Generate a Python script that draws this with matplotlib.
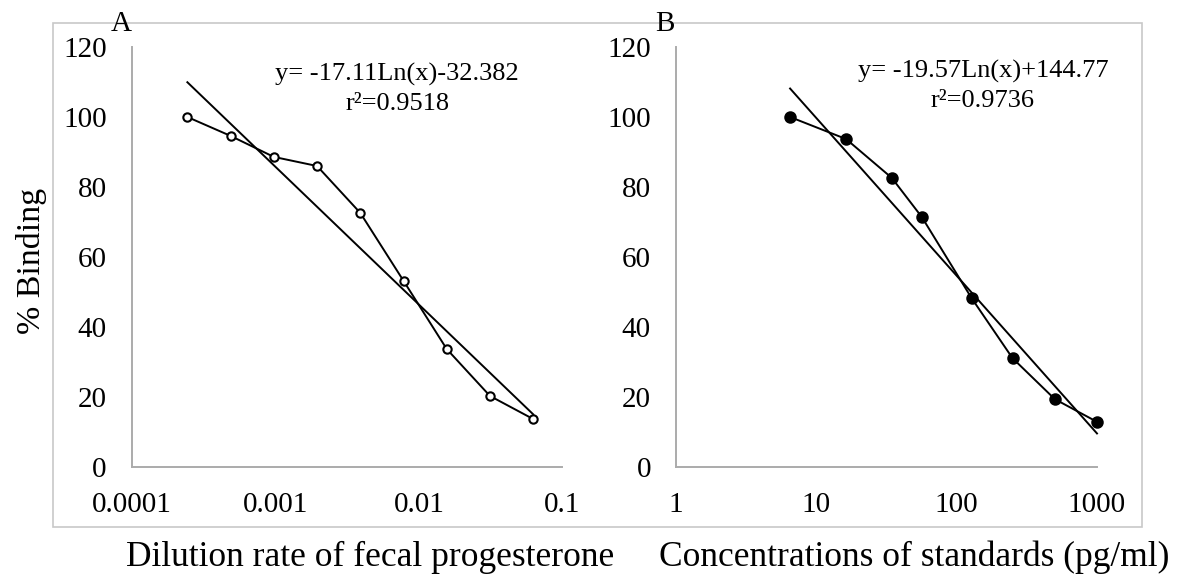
import matplotlib
matplotlib.use("Agg")
import matplotlib.pyplot as plt
from matplotlib.patches import Rectangle
import numpy as np

plt.rcParams['font.family'] = ['Liberation Serif', 'DejaVu Serif']

# panel A: dilution series of fecal extract
dilution = [1/4096, 1/2048, 1/1024, 1/512, 1/256, 1/128, 1/64, 1/32, 1/16]
binding_a = [100.0, 94.6, 88.6, 86.0, 72.6, 53.2, 33.7, 20.3, 13.7]
coef_a = (-17.11, -32.382)
eq_a = "y= -17.11Ln(x)-32.382"
r2_a = "r\u00b2=0.9518"

# panel B: standard curve
standards = [6.5, 16.3, 34.5, 56.5, 128, 250, 500, 1000]
binding_b = [100.0, 93.7, 82.6, 71.4, 48.2, 31.1, 19.4, 12.9]
coef_b = (-19.57, 144.77)
eq_b = "y= -19.57Ln(x)+144.77"
r2_b = "r\u00b2=0.9736"

yticks = [0, 20, 40, 60, 80, 100, 120]
xticks_a = [0.0001, 0.001, 0.01, 0.1]
xlabels_a = ["0.0001", "0.001", "0.01", "0.1"]
xticks_b = [1, 10, 100, 1000]
xlabels_b = ["1", "10", "100", "1000"]

W, H = 1179, 579
fig = plt.figure(figsize=(W/100, H/100), dpi=100)

def fx(px):
    return px / W

def fy(py):
    return 1 - py / H

# light frame around both panels
fig.patches.append(Rectangle((fx(53), fy(527)), fx(1142) - fx(53), fy(23) - fy(527),
                             transform=fig.transFigure, fill=False,
                             edgecolor='#c8c8c8', linewidth=1.2))

def panel(rect, x, y, coef, xlim, xticks, xlabels, filled):
    ax = fig.add_axes(rect)
    ax.set_xscale('log')
    ax.set_xlim(*xlim)
    ax.set_ylim(0, 120)
    for s in ['top', 'right']:
        ax.spines[s].set_visible(False)
    for s in ['left', 'bottom']:
        ax.spines[s].set_color('#ababab')
        ax.spines[s].set_linewidth(1.4)
    ax.set_yticks(yticks)
    ax.set_xticks(xticks)
    ax.set_xticklabels(xlabels)
    ax.minorticks_off()
    ax.tick_params(length=0, labelsize=21, pad=18)
    ax.patch.set_alpha(0)
    xs = np.array(x)
    ax.plot(xs, coef[0] * np.log(xs) + coef[1], color='black', linewidth=1.4,
            clip_on=False)
    ax.plot(x, y, color='black', linewidth=1.4, marker='o',
            markersize=7.5 if filled else 6,
            markerfacecolor='black' if filled else 'white',
            markeredgecolor='black', markeredgewidth=1.5, clip_on=False)
    return ax

axA = panel([fx(131.7), fy(467), fx(562.5) - fx(131.7), fy(47) - fy(467)],
            dilution, binding_a, coef_a, (1e-4, 1e-1), xticks_a, xlabels_a, False)
axB = panel([fx(676), fy(467), fx(1097) - fx(676), fy(47) - fy(467)],
            standards, binding_b, coef_b, (1, 1000), xticks_b, xlabels_b, True)

fig.text(fx(32), fy(261), "% Binding", rotation=90, fontsize=24.5,
         ha='center', va='center')

fig.text(fx(121), fy(24), "A", fontsize=21, ha='center', va='center')
fig.text(fx(665), fy(24), "B", fontsize=21, ha='center', va='center')

fig.text(fx(397), fy(74), eq_a, fontsize=19, ha='center', va='center')
fig.text(fx(398), fy(104), r2_a, fontsize=19, ha='center', va='center')
fig.text(fx(983), fy(71), eq_b, fontsize=19, ha='center', va='center')
fig.text(fx(983), fy(101), r2_b, fontsize=19, ha='center', va='center')

fig.text(fx(370), fy(557), "Dilution rate of fecal progesterone", fontsize=25.5,
         ha='center', va='center')
fig.text(fx(914), fy(557), "Concentrations of standards (pg/ml)", fontsize=25.5,
         ha='center', va='center')

fig.savefig("out.png", dpi=100)
